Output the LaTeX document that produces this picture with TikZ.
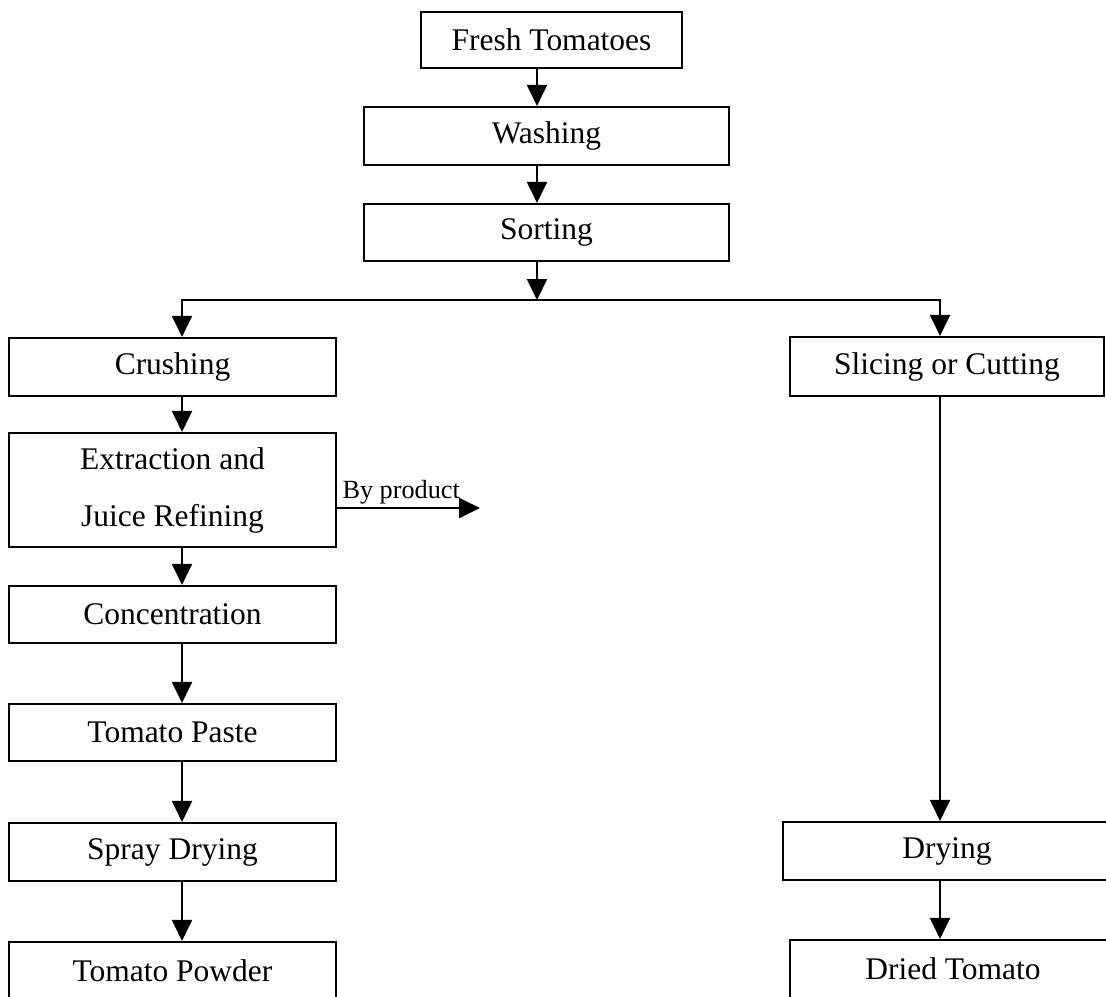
\documentclass[tikz,border=0pt]{standalone}
\usepackage{fontspec}
\setmainfont{Liberation Serif}
\usetikzlibrary{arrows.meta, positioning}
\tikzset{
    stepbox/.style={draw, line width=0.8pt, inner sep=0pt, align=center,
        font=\fontsize{12}{21.7}\selectfont},
    boxsize/.style 2 args={minimum width=#1*0.381pt, minimum height=#2*0.381pt},
    flow/.style={line width=0.8pt, -{Triangle[width=7.6pt, length=8pt]}},
}

\begin{document}
\begin{tikzpicture}[x=0.381pt, y=-0.381pt]
    \useasboundingbox (0,0) rectangle (1106,996);
    % main line
    \node[stepbox, boxsize={261}{56}] (fresh) at (551.5,40) {Fresh Tomatoes};
    \node[stepbox, boxsize={365}{58}] (wash) at (546.5,136) {Washing};
    \node[stepbox, boxsize={365}{57}] (sort) at (546.5,232.5) {Sorting};
    % paste branch
    \node[stepbox, boxsize={327}{58}] (crush) at (172.5,367) {Crushing};
    \node[stepbox, boxsize={327}{114}] (extract) at (172.5,490) {Extraction and\\Juice Refining};
    \node[stepbox, boxsize={327}{57}] (conc) at (172.5,614.5) {Concentration};
    \node[stepbox, boxsize={327}{57}] (paste) at (172.5,732.5) {Tomato Paste};
    \node[stepbox, boxsize={327}{58}] (spray) at (172.5,852) {Spray Drying};
    \node[stepbox, boxsize={327}{58}] (powder) at (172.5,971) {Tomato Powder};
    % dried branch
    \node[stepbox, boxsize={314}{59}] (slice) at (947,366.5) {Slicing or Cutting};
    \node[stepbox, boxsize={328}{58}] (dry) at (947,851) {Drying};
    \node[stepbox, boxsize={326}{58}] (dried) at (953,969) {Dried Tomato};
    \coordinate (split) at (537,300);
    \coordinate (lcol) at (182,300);
    \coordinate (rcol) at (940,300);
    \coordinate (byend) at (480,508);
    \draw[flow] (fresh.south -| split) -- (wash.north -| split);
    \draw[flow] (wash.south -| split) -- (sort.north -| split);
    \draw[flow] (sort.south -| split) -- (split);
    \draw[flow] (split) -| (crush.north -| lcol);
    \draw[flow] (split) -| (slice.north -| rcol);
    \foreach \a/\b in {crush/extract, extract/conc, conc/paste, paste/spray, spray/powder}
        \draw[flow] (\a.south -| lcol) -- (\b.north -| lcol);
    \draw[flow] (slice.south -| rcol) -- (dry.north -| rcol);
    \draw[flow] (dry.south -| rcol) -- (dried.north -| rcol);
    \draw[flow] (extract.east |- byend) -- (byend);
    \node[anchor=base west, inner sep=0pt, font=\fontsize{10}{12}\selectfont] (bylabel) at (342,498) {By product};
\end{tikzpicture}
\end{document}
